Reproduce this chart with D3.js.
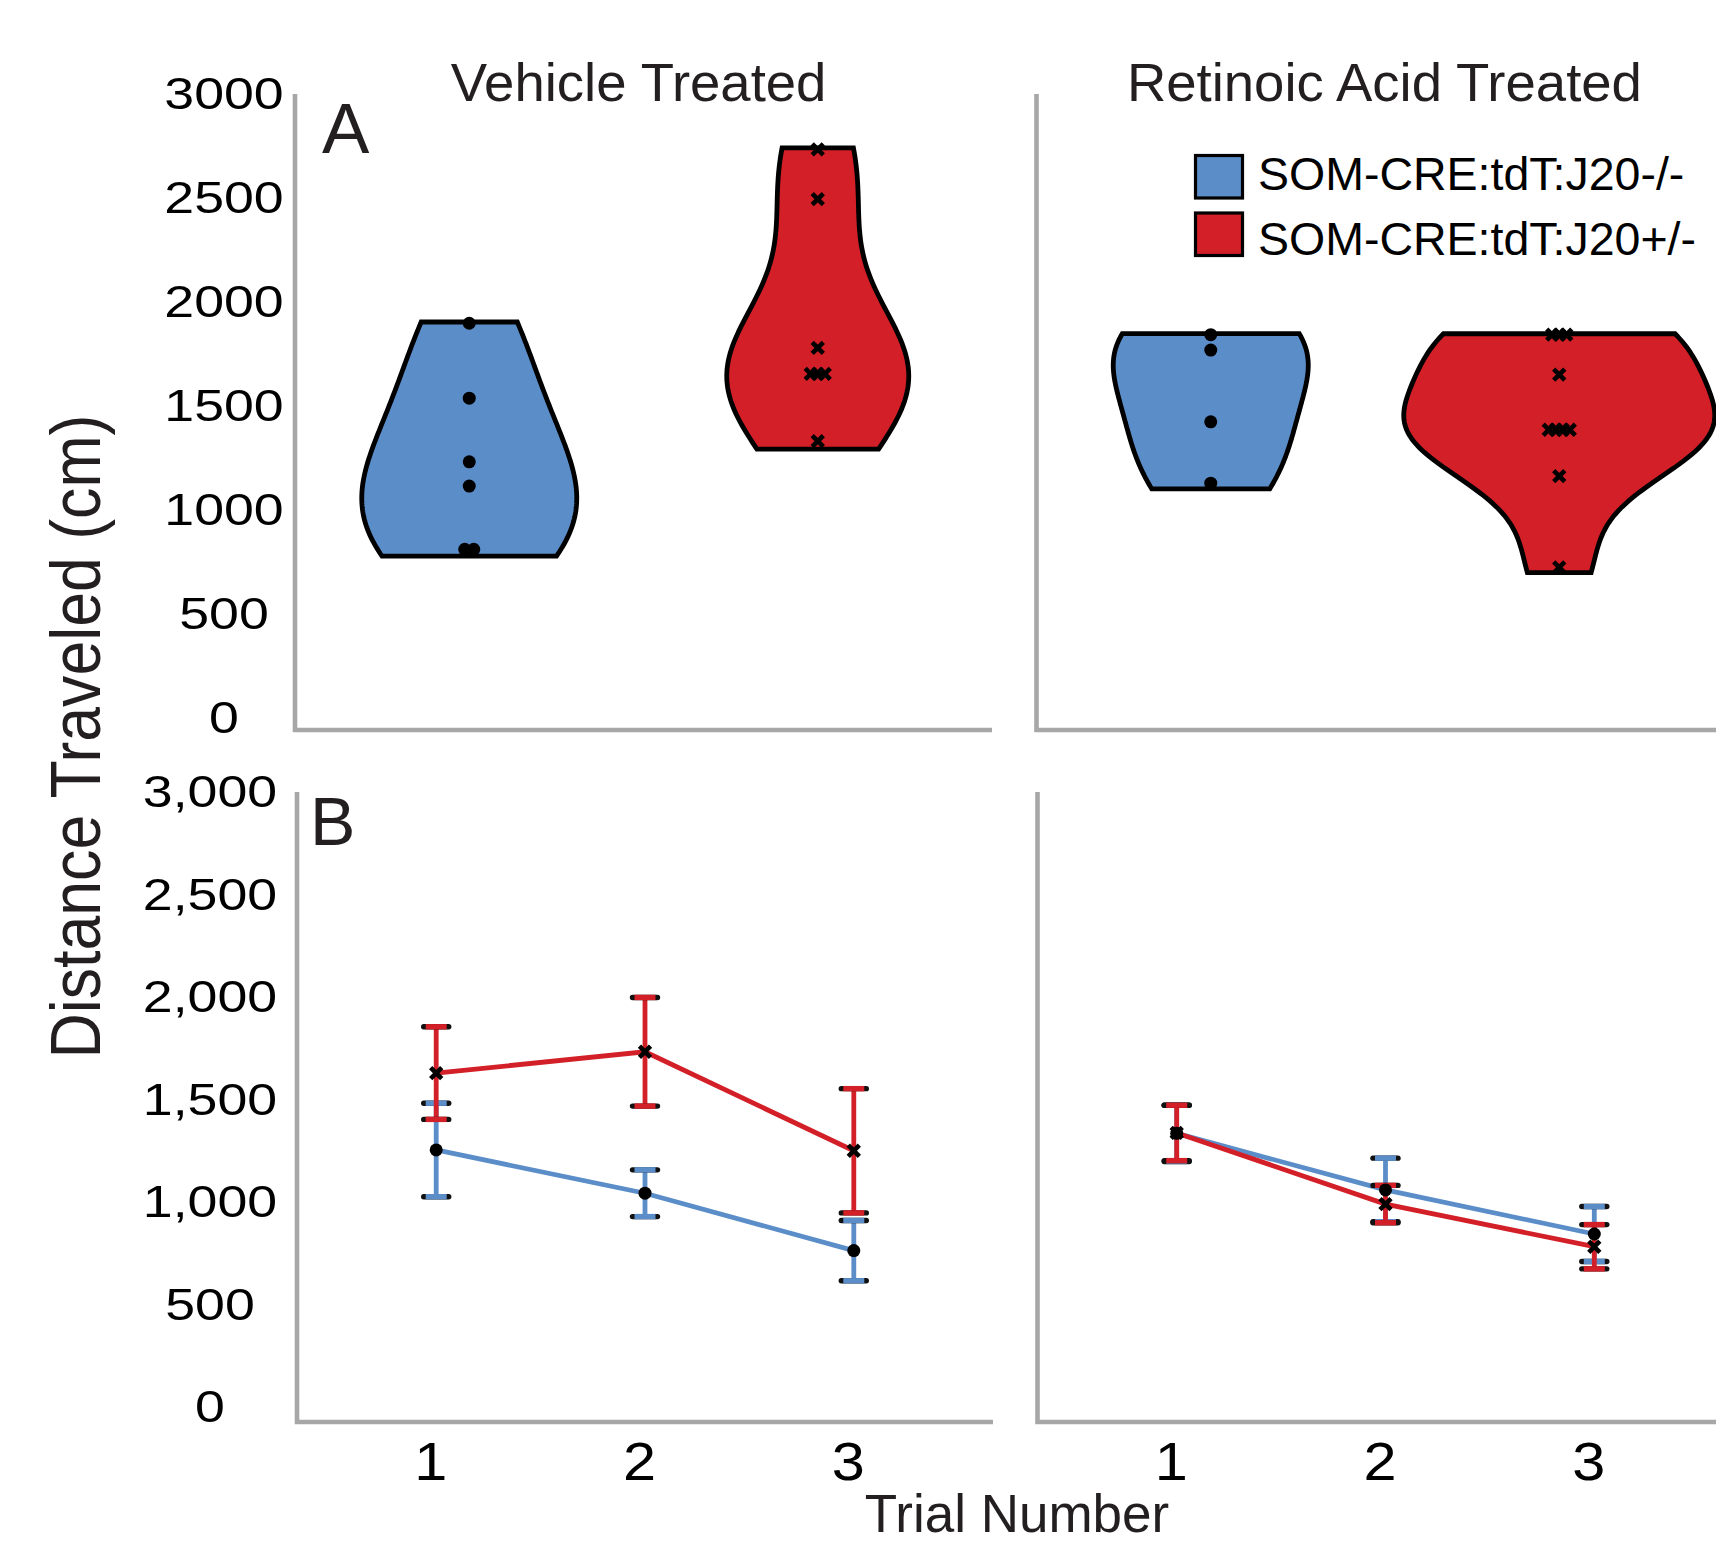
<!DOCTYPE html>
<html><head><meta charset="utf-8">
<script src="https://cdn.jsdelivr.net/npm/d3@7"></script>
<style>
body{margin:0;background:#fff}
svg{display:block}
text{font-family:"Liberation Sans", Arial, sans-serif}
</style>
</head><body>
<svg id="chart" width="1716" height="1546"></svg>
<script>
// ---------------- DATA ----------------
const treatments = ["Vehicle Treated", "Retinoic Acid Treated"];
const genotypes = ["SOM-CRE:tdT:J20-/-", "SOM-CRE:tdT:J20+/-"];
const trials = [1, 2, 3];
const yTicksA = [0, 500, 1000, 1500, 2000, 2500, 3000];
const yTicksB = [0, 500, 1000, 1500, 2000, 2500, 3000];

// Panel A: individual distance traveled (cm)
const vehicleWT  = [1893, 1533, 1227, 1110, 806, 806];
const vehicleJ20 = [2729, 2490, 1775, 1650, 1650, 1650, 1326];
const raWT       = [1838, 1764, 1419, 1124];
const raJ20      = [1838, 1838, 1838, 1646, 1381, 1381, 1381, 1381, 1158, 719];

// Panel B: mean distance per trial and error
const vehicleWTMean  = [1249, 1038, 758];
const vehicleWTErr   = [228, 114, 147];
const vehicleJ20Mean = [1624, 1728, 1245];
const vehicleJ20Err  = [226, 265, 303];
const raWTMean       = [1330, 1054, 839];
const raWTErr        = [137, 155, 134];
const raJ20Mean      = [1332, 985, 777];
const raJ20Err       = [135, 91, 108];

// ---------------- STYLE / LAYOUT ----------------
const colors = ["#5b8ec9", "#d31f27"];
const axisGray = "#a7a7a7";
const textDark = "#231f20";
const panelX = [295, 1036.5];       // left axis x of each column (panel A)
const panelXB = [297, 1037.5];      // left axis x of each column (panel B)
const panelW = 697;
const violinHalfW = [[107.5, 91], [97.5, 155.5]];
const violinCut = {low: 0.11, high: 0.02};   // KDE extension beyond data, in bandwidths

const svg = d3.select("#chart");

const yA = d3.scaleLinear().domain([0, 3000]).range([717, 93]);
const yB = d3.scaleLinear().domain([0, 3000]).range([1406, 791]);
const axA = {top: 94, bottom: 730};
const axB = {top: 792, bottom: 1422};

const panelAData = [[vehicleWT, vehicleJ20], [raWT, raJ20]];
const panelBMean = [[vehicleWTMean, vehicleJ20Mean], [raWTMean, raJ20Mean]];
const panelBErr  = [[vehicleWTErr, vehicleJ20Err], [raWTErr, raJ20Err]];

// frames
function frame(x, top, bottom, right) {
  svg.append("path")
    .attr("d", `M${x},${top}V${bottom}H${right}`)
    .attr("fill", "none").attr("stroke", axisGray).attr("stroke-width", 4.6);
}
treatments.forEach((t, i) => {
  frame(panelX[i], axA.top, axA.bottom, panelX[i] + panelW);
  frame(panelXB[i], axB.top, axB.bottom, panelXB[i] + panelW - 1);
});

// Y axis tick labels (centered)
function yLabels(scale, ticks, axisX, cx, fmt) {
  const g = svg.append("g").attr("transform", `translate(${axisX},0)`)
    .call(d3.axisLeft(scale).tickValues(ticks).tickSize(0).tickFormat(fmt));
  g.select(".domain").remove();
  g.selectAll("text")
    .attr("x", 0).attr("dy", "0.36em")
    .attr("text-anchor", "middle")
    .attr("transform", `translate(${cx - axisX},0) scale(1.22,1)`)
    .style("font-size", "44px").attr("fill", "#000")
    .style("font-family", '"Liberation Sans", Arial, sans-serif');
}
yLabels(yA, yTicksA, panelX[0], 224, d3.format("d"));
yLabels(yB, yTicksB, panelXB[0], 210, d3.format(","));

// ---------------- PANEL A: violins ----------------
function bandwidth(values) {
  return d3.deviation(values) * Math.pow(values.length, -0.2);
}
function kde(values, h) {
  const n = values.length;
  return v => d3.sum(values, xi => Math.exp(-0.5 * ((v - xi) / h) ** 2)) / (n * h * Math.sqrt(2 * Math.PI));
}

treatments.forEach((t, ti) => {
  const xA = d3.scalePoint().domain(genotypes).range([panelX[ti], panelX[ti] + panelW]).padding(0.5);
  genotypes.forEach((g, gi) => {
    const vals = panelAData[ti][gi];
    const h = bandwidth(vals);
    const f = kde(vals, h);
    const [mn, mx] = d3.extent(vals);
    const lo = mn - violinCut.low * h, hi = mx + violinCut.high * h;
    const grid = d3.range(0, 121).map(k => lo + (hi - lo) * k / 120);
    const dens = grid.map(f);
    const maxD = d3.max(dens);
    const w = d3.scaleLinear().domain([0, maxD]).range([0, violinHalfW[ti][gi]]);
    const cx = xA(g);
    const pts = grid.map((v, k) => ({v, d: dens[k]}));
    const area = d3.area()
      .y(d => yA(d.v))
      .x0(d => cx - w(d.d))
      .x1(d => cx + w(d.d))
      .curve(d3.curveLinear);
    svg.append("path").attr("d", area(pts))
      .attr("fill", colors[gi]).attr("stroke", "#000")
      .attr("stroke-width", 4.8).attr("stroke-linejoin", "miter");

    // points, with duplicates spread sideways
    const counts = d3.rollup(vals, v => v.length, d => d);
    const spacing = gi === 0 ? 9 : 7;
    const placed = [];
    counts.forEach((k, v) => {
      for (let i = 0; i < k; i++) placed.push({v, off: (i - (k - 1) / 2) * spacing});
    });
    drawMarkers(placed.map(p => ({x: cx + p.off, y: yA(p.v)})), gi);
  });
});

function drawMarkers(pts, gi) {
  if (gi === 0) {
    svg.append("g").selectAll("circle").data(pts).join("circle")
      .attr("cx", d => d.x).attr("cy", d => d.y).attr("r", 6.5).attr("fill", "#000");
  } else {
    const sym = d3.symbol().type(d3.symbolX).size(82);
    svg.append("g").selectAll("path").data(pts).join("path")
      .attr("d", sym).attr("transform", d => `translate(${d.x},${d.y})`)
      .attr("fill", "none").attr("stroke", "#000").attr("stroke-width", 4.6);
  }
}

// ---------------- PANEL B: lines with error bars ----------------
treatments.forEach((t, ti) => {
  const xB = d3.scalePoint().domain(trials).range([panelXB[ti], panelXB[ti] + panelW - 1]).padding(2 / 3);
  genotypes.forEach((g, gi) => {
    const means = panelBMean[ti][gi];
    const errs = panelBErr[ti][gi];
    const rows = trials.map((tr, k) => ({tr, m: means[k], e: errs[k]}));
    const gg = svg.append("g");
    // error bars
    rows.forEach(r => {
      const x = xB(r.tr);
      gg.append("line").attr("x1", x).attr("x2", x)
        .attr("y1", yB(r.m + r.e)).attr("y2", yB(r.m - r.e))
        .attr("stroke", colors[gi]).attr("stroke-width", 4.8);
      [r.m + r.e, r.m - r.e].forEach(v => {
        gg.append("line").attr("x1", x - 12.5).attr("x2", x + 12.5)
          .attr("y1", yB(v)).attr("y2", yB(v))
          .attr("stroke", "#111").attr("stroke-width", 5.4).attr("stroke-linecap", "round");
        gg.append("line").attr("x1", x - 10.5).attr("x2", x + 10.5)
          .attr("y1", yB(v)).attr("y2", yB(v))
          .attr("stroke", colors[gi]).attr("stroke-width", 5.4);
      });
    });
    // line
    gg.append("path").datum(rows)
      .attr("d", d3.line().x(d => xB(d.tr)).y(d => yB(d.m)))
      .attr("fill", "none").attr("stroke", colors[gi]).attr("stroke-width", 4.8);
  });
  // markers on top
  genotypes.forEach((g, gi) => {
    const means = panelBMean[ti][gi];
    drawMarkers(trials.map((tr, k) => ({x: xB(tr), y: yB(means[k])})), gi);
  });
  // x tick labels
  const ax = svg.append("g").attr("transform", `translate(0,${axB.bottom})`)
    .call(d3.axisBottom(xB).tickSize(0));
  ax.select(".domain").remove();
  ax.selectAll(".tick text")
    .attr("y", 0).attr("dy", 0)
    .attr("transform", "translate(-6,57.5) scale(1.1,1)")
    .style("font-size", "54px").attr("fill", "#000")
    .style("font-family", '"Liberation Sans", Arial, sans-serif');
});

// ---------------- TEXT ----------------
svg.append("text").attr("x", 638.6).attr("y", 100.7).attr("text-anchor", "middle")
  .style("font-size", "54.5px").attr("fill", textDark).text(treatments[0]);
svg.append("text").attr("x", 1384.4).attr("y", 100.7).attr("text-anchor", "middle")
  .style("font-size", "54.5px").attr("fill", textDark).text(treatments[1]);
svg.append("text").attr("x", 322).attr("y", 153.3)
  .style("font-size", "71px").attr("fill", textDark).text("A");
svg.append("text").attr("x", 310).attr("y", 845)
  .style("font-size", "68px").attr("fill", textDark).text("B");
svg.append("text").attr("transform", "translate(100,736.5) rotate(-90) scale(0.895,1)")
  .attr("text-anchor", "middle").style("font-size", "70px").attr("fill", textDark)
  .text("Distance Traveled (cm)");
svg.append("text").attr("x", 1017).attr("y", 1532).attr("text-anchor", "middle")
  .style("font-size", "53px").attr("fill", textDark).text("Trial Number");

// legend
const leg = svg.append("g");
genotypes.forEach((g, gi) => {
  const y0 = [155.5, 213][gi];
  leg.append("rect").attr("x", 1195.5).attr("y", y0).attr("width", 47).attr("height", 42.5)
    .attr("fill", colors[gi]).attr("stroke", "#000").attr("stroke-width", 3.2);
  leg.append("text").attr("x", 1258).attr("y", [190, 255][gi])
    .style("font-size", "46.5px").attr("fill", "#000").text(g);
});
</script>
</body></html>
